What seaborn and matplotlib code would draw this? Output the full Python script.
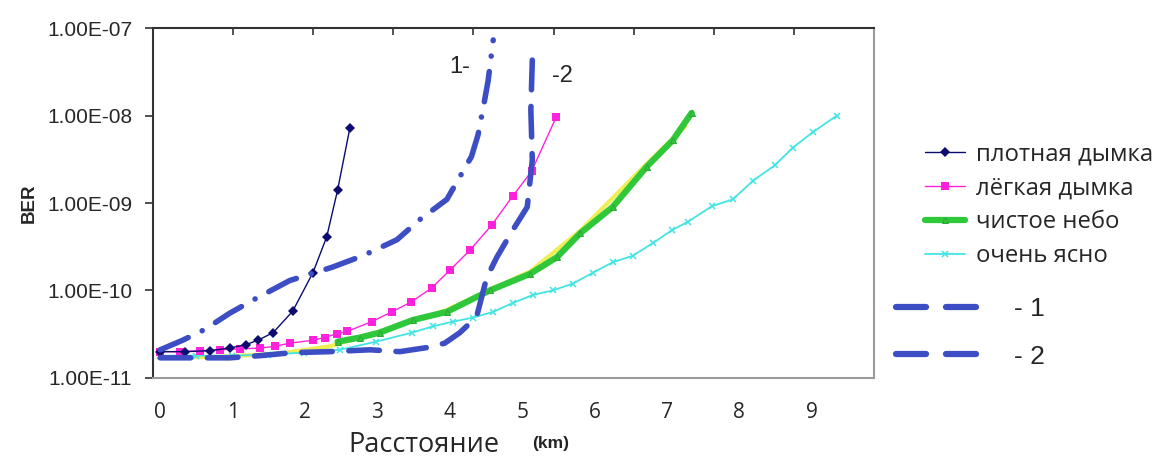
import numpy as np
import pandas as pd
import seaborn as sns
import matplotlib.pyplot as plt
from matplotlib.lines import Line2D

# values (distance in km, BER)
dense_x = [0.0, 0.34, 0.69, 0.96, 1.18, 1.35, 1.56, 1.83, 2.11, 2.30, 2.45, 2.62]
dense_y = [2.0e-11, 2.0e-11, 2.05e-11, 2.2e-11, 2.4e-11, 2.7e-11, 3.3e-11, 5.8e-11,
           1.6e-10, 4.1e-10, 1.4e-9, 7.2e-9]

light_x = [0.0, 0.27, 0.55, 0.82, 1.10, 1.38, 1.58, 1.79, 2.11, 2.27, 2.44, 2.58,
           2.92, 3.20, 3.47, 3.75, 4.00, 4.28, 4.58, 4.87, 5.13, 5.47]
light_y = [2.0e-11, 2.0e-11, 2.05e-11, 2.1e-11, 2.15e-11, 2.2e-11, 2.3e-11, 2.5e-11,
           2.7e-11, 2.9e-11, 3.2e-11, 3.4e-11, 4.4e-11, 5.7e-11, 7.4e-11, 1.07e-10,
           1.7e-10, 2.9e-10, 5.6e-10, 1.2e-9, 2.3e-9, 9.6e-9]

clear_x = [2.45, 2.76, 3.03, 3.49, 3.96, 4.55, 5.11, 5.48, 5.80, 6.25, 6.72, 7.08, 7.34]
clear_y = [2.6e-11, 2.9e-11, 3.3e-11, 4.6e-11, 5.7e-11, 1.0e-10, 1.55e-10, 2.4e-10,
           4.5e-10, 9.0e-10, 2.6e-9, 5.2e-9, 1.07e-8]

yellow_x = [0.0, 0.82, 1.65, 2.34, 3.03, 3.96, 5.11, 5.80, 6.72, 7.25]
yellow_y = [1.7e-11, 1.75e-11, 1.9e-11, 2.3e-11, 3.4e-11, 6.0e-11, 1.65e-10, 4.8e-10,
            2.8e-9, 7.5e-9]

vclear_x = [0.0, 0.49, 0.99, 1.49, 1.98, 2.48, 2.98, 3.48, 3.77, 4.04, 4.32, 4.60, 4.87,
            5.15, 5.42, 5.70, 5.98, 6.25, 6.53, 6.81, 7.07, 7.29, 7.62, 7.91, 8.19,
            8.49, 8.74, 9.02, 9.35]
vclear_y = [1.8e-11, 1.8e-11, 1.8e-11, 1.85e-11, 1.95e-11, 2.1e-11, 2.6e-11, 3.3e-11,
            3.9e-11, 4.4e-11, 4.9e-11, 5.7e-11, 7.2e-11, 8.9e-11, 1.0e-10, 1.2e-10,
            1.6e-10, 2.1e-10, 2.5e-10, 3.5e-10, 4.9e-10, 6.1e-10, 9.2e-10, 1.1e-9,
            1.8e-9, 2.7e-9, 4.3e-9, 6.5e-9, 1.0e-8]

c1_x = [0.0, 0.31, 0.62, 0.96, 1.31, 1.79, 2.38, 2.80, 3.27, 3.59, 3.96, 4.14, 4.30,
        4.39, 4.46, 4.53, 4.60]
c1_y = [2.1e-11, 2.7e-11, 3.6e-11, 5.5e-11, 8.0e-11, 1.3e-10, 1.85e-10, 2.5e-10,
        3.8e-10, 6.5e-10, 1.1e-9, 2.0e-9, 3.4e-9, 6.0e-9, 1.2e-8, 2.5e-8, 7.3e-8]

c2_x = [0.0, 0.48, 0.96, 1.38, 1.83, 2.34, 2.90, 3.31, 3.72, 3.93, 4.14, 4.37, 4.51,
        4.65, 4.87, 5.07, 5.14, 5.12, 5.14]
c2_y = [1.7e-11, 1.7e-11, 1.7e-11, 1.8e-11, 1.95e-11, 2.0e-11, 2.1e-11, 2.0e-11,
        2.25e-11, 2.5e-11, 3.3e-11, 5.0e-11, 1.4e-10, 2.4e-10, 4.9e-10, 9.0e-10,
        3.1e-9, 1.15e-8, 4.3e-8]

labels = ['плотная дымка', 'лёгкая дымка', 'чистое небо', 'очень ясно']
xticks = list(range(10))
yticks = [1e-11, 1e-10, 1e-9, 1e-8, 1e-7]
ytick_labels = ['1.00E-11', '1.00E-10', '1.00E-09', '1.00E-08', '1.00E-07']

sns.set_theme(style='white')
plt.rcParams['font.family'] = ['Open Sans', 'DejaVu Sans']

fig = plt.figure(figsize=(11.57, 4.67), dpi=100)
ax = fig.add_axes([0.1322, 0.1906, 0.6232, 0.7494])

blue = '#3d4ec4'

def line(x, y, **kw):
    sns.lineplot(x=x, y=y, ax=ax, estimator=None, sort=False, **kw)

line(yellow_x, yellow_y, color='#eeee55', linewidth=3, zorder=2)
line(vclear_x, vclear_y, color='#44e4e4', linewidth=1.3, marker='x', markersize=5,
     markeredgewidth=1.1, markeredgecolor='#44e4e4', label=labels[3], zorder=3)
line(clear_x, clear_y, color='#2fc83a', linewidth=4.5, marker='^', markersize=4,
     markeredgecolor='#2fa83a', label=labels[2], zorder=4)
line(light_x, light_y, color='#ff22dd', linewidth=1, marker='s', markersize=6,
     markeredgewidth=0, label=labels[1], zorder=5)
line(dense_x, dense_y, color='#0b0b70', linewidth=1, marker='D', markersize=5,
     markeredgewidth=0, label=labels[0], zorder=6)
line(c1_x, c1_y, color=blue, linewidth=4, linestyle=(0, (5.5, 2.8, 0.01, 2.8)),
     dash_capstyle='round', zorder=7)
line(c2_x, c2_y, color=blue, linewidth=4, linestyle=(0, (5.5, 3.0)),
     dash_capstyle='round', zorder=7)

ax.set_yscale('log')
ax.set_ylim(1e-11, 1e-7)
ax.set_xlim(-0.1, 9.86)
ax.set_yticks(yticks)
ax.set_yticklabels(ytick_labels, family=['Liberation Sans'], fontsize=15)
ax.yaxis.set_minor_locator(plt.NullLocator())
ax.set_xticks(xticks)
ax.set_xticklabels([str(t) for t in xticks], fontsize=15)
ax.tick_params(axis='x', length=0, pad=17)
ax.tick_params(axis='y', length=6, width=1.2, direction='out', color='#333333', pad=9,
               left=True)
for s in ['bottom', 'right']:
    ax.spines[s].set_color('#9a9a9a')
    ax.spines[s].set_linewidth(1.5)
for s in ['left', 'top']:
    ax.spines[s].set_color('#333333')
    ax.spines[s].set_linewidth(1.5)

top = ax.twiny()
top.set_xlim(0, 9)
top.set_xticks(range(1, 9))
top.tick_params(axis='x', direction='in', length=5, width=1.2, color='#333333',
                labeltop=False)
top.grid(False)
for s in top.spines.values():
    s.set_visible(False)

ax.set_ylabel('BER', family=['Liberation Sans'], fontweight='bold', fontsize=13.5,
              labelpad=7)
ax.set_xlabel('')
fig.text(0.366, 0.032, 'Расстояние', fontsize=19.5, ha='center', va='baseline')
fig.text(0.476, 0.041, '(km)', family=['Liberation Sans'], fontweight='bold',
         fontsize=12.5, ha='center', va='baseline', color='#222222')

ax.text(4.14, 3.6e-8, '1-', family=['Liberation Sans'], fontsize=17, ha='center',
        va='center')
ax.text(5.55, 2.8e-8, '-2', family=['Liberation Sans'], fontsize=17, ha='center',
        va='center')

h, l = ax.get_legend_handles_labels()
order = [labels.index(x) for x in l]
h = [h[i] for i in np.argsort(order)]
leg1 = fig.legend(h, labels, loc='upper left', bbox_to_anchor=(0.791, 0.716),
                  frameon=False, fontsize=17.2, handlelength=1.7, handletextpad=0.45,
                  labelspacing=0.42, borderaxespad=0)
if ax.get_legend():
    ax.get_legend().remove()

dash_handles = [Line2D([], [], color=blue, linewidth=4.5, linestyle=(0, (4.8, 3.2)),
                       dash_capstyle='round') for _ in range(2)]
leg2 = fig.legend(dash_handles, ['- 1', '- 2'], loc='upper left',
                  bbox_to_anchor=(0.765, 0.387), frameon=False,
                  handlelength=3.5, handletextpad=1.0, labelspacing=0.9,
                  borderaxespad=0,
                  prop={'family': ['Liberation Sans Narrow', 'Liberation Sans'], 'size': 19})

fig.savefig('out.png', dpi=100)
